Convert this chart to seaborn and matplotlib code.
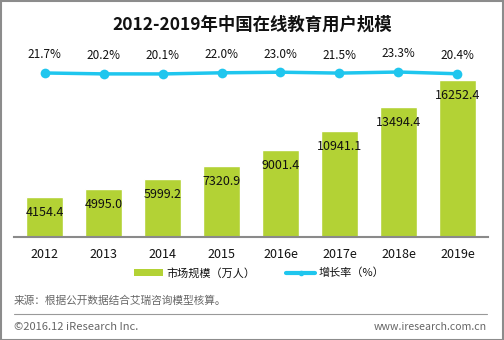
import matplotlib
matplotlib.use("Agg")
import matplotlib.pyplot as plt
import seaborn as sns
import pandas as pd
from matplotlib.lines import Line2D
from matplotlib.patches import Patch, Rectangle

years = ["2012", "2013", "2014", "2015", "2016e", "2017e", "2018e", "2019e"]
users = [4154.4, 4995.0, 5999.2, 7320.9, 9001.4, 10941.1, 13494.4, 16252.4]
growth = [21.7, 20.2, 20.1, 22.0, 23.0, 21.5, 23.3, 20.4]

title = "2012-2019年中国在线教育用户规模"
bar_name = "市场规模（万人）"
line_name = "增长率（%）"
source = "来源：根据公开数据结合艾瑞咨询模型核算。"
copyright_txt = "©2016.12 iResearch Inc."
site = "www.iresearch.com.cn"

BAR_C = "#b3d235"
LINE_C = "#1fc6ee"

sns.set_theme(style="white")
plt.rcParams["font.family"] = ["Noto Sans CJK SC", "DejaVu Sans"]

df = pd.DataFrame({"year": years, "users": users, "growth": growth,
                   "pos": list(range(len(years)))})

W, H = 504, 340
fig = plt.figure(figsize=(W / 100, H / 100), dpi=100)
fig.patch.set_facecolor("white")

left, right, bottom, top = 14, 488, 237, 60
ax = fig.add_axes([left / W, 1 - bottom / H, (right - left) / W, (bottom - top) / H])

sns.barplot(data=df, x="year", y="users", color=BAR_C, width=37 / 59,
            saturation=1, ax=ax)
px_per_unit = 0.00965
ax.set_ylim(0, (bottom - top) / px_per_unit)
ax.set_xlim(-0.517, 7.517)
ax.set_xlabel("")
ax.set_ylabel("")
ax.set_yticks([])
for s in ["top", "right", "left"]:
    ax.spines[s].set_visible(False)
ax.spines["bottom"].set_color("#8a8a8a")
ax.spines["bottom"].set_linewidth(1.5)
ax.tick_params(axis="x", length=0, pad=8, labelsize=9, labelcolor="#111111")

for i, v in enumerate(df["users"]):
    ax.annotate(f"{v:.1f}", (i, v), xytext=(0, -11), textcoords="offset points",
                ha="center", va="center", fontsize=9, color="#111111")

ax2 = ax.twinx()
k = 0.6  # px per percent
ax2.set_ylim(20 - (bottom - 74) / k, 20 + (74 - top) / k)
sns.lineplot(data=df, x="pos", y="growth", color=LINE_C, linewidth=2.5,
             marker="o", markersize=7, markeredgewidth=0, ax=ax2)
ax2.set_axis_off()
for i, v in enumerate(df["growth"]):
    ax2.annotate(f"{v:.1f}%", (i, v), xytext=(0, 13), textcoords="offset points",
                 ha="center", va="center", fontsize=8.5, color="#111111")

fig.text(252 / W, 1 - 25 / H, title, ha="center", va="center",
         fontsize=12.5, fontweight="bold", color="#111111")

handles = [Patch(facecolor=BAR_C, edgecolor="none"),
           Line2D([0], [0], color=LINE_C, lw=3, marker="o", markersize=3)]
leg = fig.legend(handles, [bar_name, line_name], loc="center",
                 bbox_to_anchor=(259 / W, 1 - 273 / H), ncol=2, frameon=False,
                 fontsize=8, handlelength=2.6, handleheight=0.5,
                 columnspacing=2.8, handletextpad=0.3)
for t in leg.get_texts():
    t.set_color("#111111")

fig.text(14 / W, 1 - 301 / H, source, ha="left", va="center", fontsize=7.7,
         color="#666666")
fig.add_artist(Line2D([14 / W, 487 / W], [1 - 314 / H, 1 - 314 / H],
                      color="#999999", lw=0.8, transform=fig.transFigure))
fig.text(14 / W, 1 - 327 / H, copyright_txt, ha="left", va="center",
         fontsize=8, color="#666666")
fig.text(487 / W, 1 - 327 / H, site, ha="right", va="center",
         fontsize=7.6, color="#666666")

fig.add_artist(Rectangle((0.5 / W, 0.5 / H), 1 - 1.5 / W, 1 - 1.5 / H,
                         transform=fig.transFigure, fill=False,
                         edgecolor="#8c8c8c", lw=1.5))

fig.savefig("out.png", dpi=100, facecolor="white")
